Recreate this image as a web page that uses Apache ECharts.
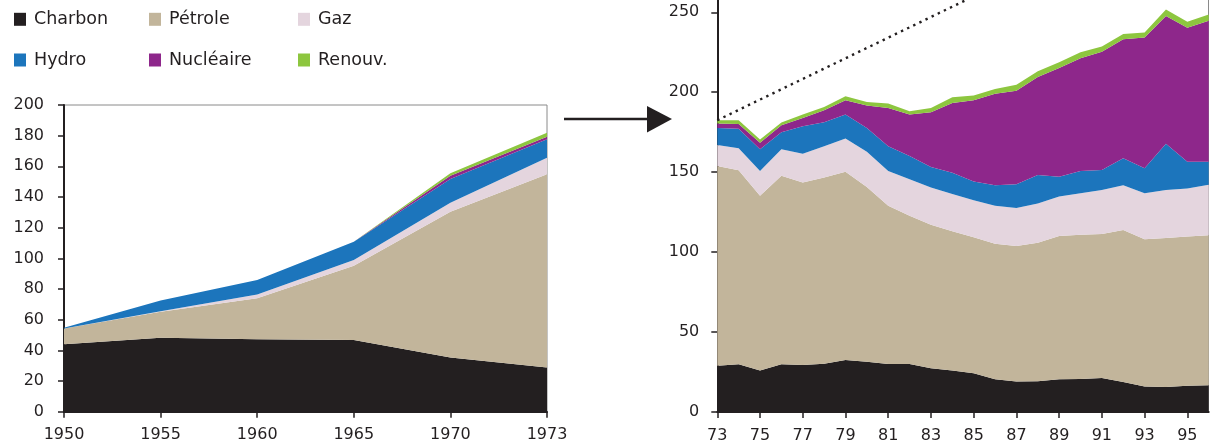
<!DOCTYPE html>
<html>
<head>
<meta charset="utf-8">
<script src="https://cdn.jsdelivr.net/npm/echarts@6/dist/echarts.min.js"></script>
<style>
html,body{margin:0;padding:0;background:#fff;}
#chart{width:1210px;height:444px;}
</style>
</head>
<body>
<div id="chart"></div>
<script>
// ---------- Data ----------
const seriesNames = ['Charbon', 'Pétrole', 'Gaz', 'Hydro', 'Nucléaire', 'Renouv.'];
const seriesColors = ['#231f20', '#c2b59b', '#e4d5de', '#1c75bc', '#8e278b', '#8dc63f'];

// Left panel 1950-1973
const leftYears = ['1950', '1955', '1960', '1965', '1970', '1973'];
const leftCharbon   = [44, 48.3, 47.2, 46.8, 35.4, 28.9];
const leftPetrole   = [10.3, 16.9, 26.7, 48.4, 95, 125.9];
const leftGaz       = [0, 0.3, 2.6, 3.7, 5.9, 10.8];
const leftHydro     = [0.4, 7, 9.4, 12, 15.4, 12];
const leftNucleaire = [0, 0, 0, 0, 2.2, 1.7];
const leftRenouv    = [0, 0, 0, 0, 1.6, 2.6];
const leftTicks = [0, 20, 40, 60, 80, 100, 120, 140, 160, 180, 200];

// Right panel 1973-1996
const rightYears = ['73','74','75','76','77','78','79','80','81','82','83','84','85','86','87','88','89','90','91','92','93','94','95','96'];
const rightCharbon   = [29, 29.9, 25.9, 29.9, 29.4, 30.2, 32.5, 31.5, 30, 30, 27.4, 25.9, 24.3, 20.5, 19, 19.2, 20.5, 20.7, 21.2, 18.7, 15.9, 15.6, 16.4, 16.8];
const rightPetrole   = [124.9, 121.3, 109.3, 117.8, 114.1, 116.4, 117.8, 109.3, 99, 92.8, 89.8, 87.1, 85, 84.7, 84.9, 86.6, 89.6, 90.1, 90.2, 95.2, 92.1, 93.3, 93.3, 93.7];
const rightGaz       = [13.1, 13.7, 15.6, 16.6, 18, 19.7, 20.8, 22, 21.8, 22.8, 23.2, 23.3, 23.2, 23.8, 23.7, 24.6, 24.7, 26.1, 27.4, 28, 28.9, 29.9, 30.1, 31.6];
const rightHydro     = [10.7, 12.2, 13.5, 10.7, 17.3, 15, 15, 14.9, 15.5, 14.5, 12.9, 13.4, 11.6, 12.9, 14.9, 17.8, 12.4, 13.9, 12.6, 16.8, 15.6, 29, 16.8, 14.5];
const rightNucleaire = [2.7, 3.1, 4.1, 4.4, 5.1, 7.4, 8.9, 14, 23.9, 26, 34.2, 43.6, 50.9, 57.2, 58.5, 61.4, 67.9, 70.5, 74, 74.4, 81.7, 79.9, 83.8, 88.1];
const rightRenouv    = [2.1, 2.3, 2.1, 1.7, 2.2, 2.1, 2.5, 2.2, 2.7, 2, 2.7, 3.5, 2.9, 2.9, 3.7, 3.6, 3.7, 3.7, 3.2, 3.4, 3.1, 4.1, 3.7, 4];
const rightTicks = [0, 50, 100, 150, 200, 250];
// Dotted trend (1973 value, 1996 value)
const trendEnds = [182.5, 331];

// ---------- Chart ----------
const FONT = 'DejaVu Sans';
const INK = '#231f20';
const FRAME = '#8a8a8a';

const leftData = [leftCharbon, leftPetrole, leftGaz, leftHydro, leftNucleaire, leftRenouv];
const rightData = [rightCharbon, rightPetrole, rightGaz, rightHydro, rightNucleaire, rightRenouv];

function areaSeries(name, i, data, axisIdx, stack) {
  return {
    name: name, type: 'line', stack: stack,
    xAxisIndex: axisIdx, yAxisIndex: axisIdx,
    data: data, symbol: 'none', showSymbol: false,
    lineStyle: { width: 0, color: seriesColors[i] },
    itemStyle: { color: seriesColors[i] },
    areaStyle: { color: seriesColors[i], opacity: 1 },
    emphasis: { disabled: true }, silent: true, animation: false
  };
}

const series = [];
seriesNames.forEach((n, i) => series.push(areaSeries(n, i, leftData[i], 0, 'left')));
seriesNames.forEach((n, i) => series.push(areaSeries(n, i, rightData[i], 1, 'right')));
series.push({
  name: 'trend', type: 'line', xAxisIndex: 1, yAxisIndex: 1,
  data: rightYears.map((_, i) => i === 0 ? trendEnds[0] : (i === rightYears.length - 1 ? trendEnds[1] : null)),
  connectNulls: true, symbol: 'none', clip: true, z: 10,
  lineStyle: { color: INK, width: 2.4, type: [2.4, 4.4] },
  silent: true, animation: false
});

const legendX = [9, 144, 293];
const legendY = [5.3, 46];
const legends = seriesNames.map((n, i) => ({
  data: [n],
  left: legendX[i % 3], top: legendY[Math.floor(i / 3)],
  icon: 'rect', itemWidth: 12, itemHeight: 13, itemGap: 0,
  selectedMode: false,
  textStyle: { fontFamily: FONT, fontSize: 17.5, color: INK, padding: [0, 0, 0, 3], lineHeight: 18 }
}));

const axisLabelStyle = { fontFamily: FONT, fontSize: 16, color: INK };

const option = {
  animation: false,
  legend: legends,
  grid: [
    { left: 64, right: 663, top: 105, bottom: 32.3, show: true, borderColor: FRAME, borderWidth: 1 },
    { left: 717.3, right: 1.3, top: 0, bottom: 31.7 }
  ],
  xAxis: [
    {
      type: 'category', gridIndex: 0, data: leftYears, boundaryGap: false,
      axisLine: { lineStyle: { color: INK, width: 2 } },
      axisTick: { show: true, length: 6, lineStyle: { color: INK, width: 1.5 } },
      axisLabel: Object.assign({ margin: 15, interval: 0 }, axisLabelStyle),
      splitLine: { show: false }
    },
    {
      type: 'category', gridIndex: 1, data: rightYears, boundaryGap: false,
      axisLine: { lineStyle: { color: INK, width: 2 } },
      axisTick: { show: true, length: 6, interval: 1, lineStyle: { color: INK, width: 1.5 } },
      axisLabel: Object.assign({ margin: 16, interval: 1 }, axisLabelStyle),
      splitLine: { show: false }
    }
  ],
  yAxis: [
    {
      type: 'value', gridIndex: 0, min: 0, max: 200, interval: 20,
      axisLine: { show: true, lineStyle: { color: INK, width: 2 } },
      axisTick: { show: true, length: 6, lineStyle: { color: INK, width: 1.5 } },
      axisLabel: Object.assign({ margin: 20 }, axisLabelStyle),
      splitLine: { show: false }
    },
    {
      type: 'value', gridIndex: 1, min: 0, max: 257.7, interval: 50,
      axisLine: { show: true, lineStyle: { color: INK, width: 2 } },
      axisTick: { show: true, length: 6, customValues: rightTicks, lineStyle: { color: INK, width: 1.5 } },
      axisLabel: Object.assign({ margin: 18, customValues: rightTicks,
        formatter: v => (rightTicks.indexOf(v) >= 0 ? String(v) : '') }, axisLabelStyle),
      splitLine: { show: false }
    },
    {
      type: 'value', gridIndex: 1, position: 'right', min: 0, max: 1,
      axisLine: { show: true, lineStyle: { color: FRAME, width: 1 } },
      axisTick: { show: false }, axisLabel: { show: false }, splitLine: { show: false }
    }
  ],
  graphic: [
    { type: 'line', shape: { x1: 564, y1: 119, x2: 650, y2: 119 }, style: { stroke: INK, lineWidth: 2.6 }, silent: true },
    { type: 'polygon', shape: { points: [[647, 106], [672, 119], [647, 132.5]] }, style: { fill: INK }, silent: true }
  ],
  series: series
};

const chart = echarts.init(document.getElementById('chart'), null, { renderer: 'canvas' });
chart.setOption(option);
</script>
</body>
</html>
